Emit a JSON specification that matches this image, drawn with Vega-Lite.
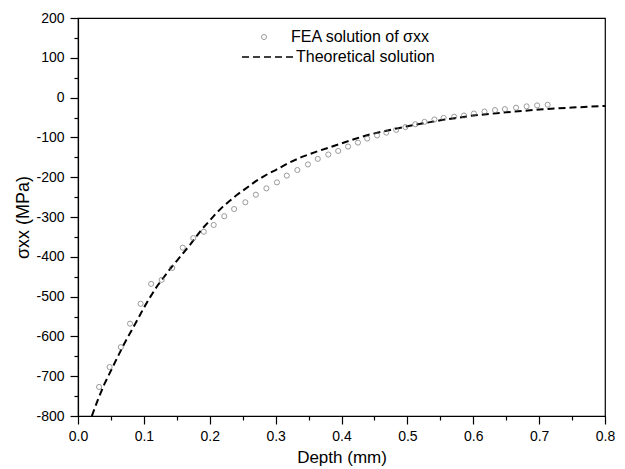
{
  "$schema": "https://vega.github.io/schema/vega-lite/v6.json",
  "width": 527,
  "height": 398,
  "autosize": "none",
  "padding": {"left": 78, "top": 18, "right": 20, "bottom": 53},
  "background": "white",
  "config": {
    "view": {"stroke": "black", "strokeWidth": 1.2},
    "font": "Liberation Sans"
  },
  "datasets": {
    "fea": [
      {"depth": 0.032, "stress": -727}, {"depth": 0.048, "stress": -677}, {"depth": 0.065, "stress": -627},
      {"depth": 0.079, "stress": -568}, {"depth": 0.095, "stress": -518}, {"depth": 0.111, "stress": -468},
      {"depth": 0.127, "stress": -458}, {"depth": 0.143, "stress": -428}, {"depth": 0.159, "stress": -377},
      {"depth": 0.175, "stress": -353}, {"depth": 0.191, "stress": -337}, {"depth": 0.206, "stress": -320},
      {"depth": 0.222, "stress": -298}, {"depth": 0.237, "stress": -280}, {"depth": 0.254, "stress": -263},
      {"depth": 0.270, "stress": -244}, {"depth": 0.286, "stress": -228}, {"depth": 0.302, "stress": -213},
      {"depth": 0.317, "stress": -196}, {"depth": 0.333, "stress": -182}, {"depth": 0.349, "stress": -168},
      {"depth": 0.364, "stress": -154}, {"depth": 0.380, "stress": -143}, {"depth": 0.395, "stress": -134},
      {"depth": 0.410, "stress": -123}, {"depth": 0.425, "stress": -113}, {"depth": 0.439, "stress": -103},
      {"depth": 0.454, "stress": -95}, {"depth": 0.468, "stress": -88}, {"depth": 0.483, "stress": -81},
      {"depth": 0.497, "stress": -74}, {"depth": 0.512, "stress": -67}, {"depth": 0.526, "stress": -61},
      {"depth": 0.541, "stress": -55}, {"depth": 0.555, "stress": -51}, {"depth": 0.571, "stress": -48},
      {"depth": 0.586, "stress": -45}, {"depth": 0.601, "stress": -40}, {"depth": 0.617, "stress": -35},
      {"depth": 0.633, "stress": -31.5}, {"depth": 0.648, "stress": -29}, {"depth": 0.665, "stress": -25.5},
      {"depth": 0.681, "stress": -22}, {"depth": 0.697, "stress": -19.6}, {"depth": 0.713, "stress": -18}
    ],
    "theory": [
      {"depth": 0.021, "stress": -800}, {"depth": 0.03, "stress": -760}, {"depth": 0.04, "stress": -720},
      {"depth": 0.05, "stress": -686}, {"depth": 0.06, "stress": -652}, {"depth": 0.07, "stress": -619},
      {"depth": 0.08, "stress": -589}, {"depth": 0.09, "stress": -559}, {"depth": 0.10, "stress": -528},
      {"depth": 0.11, "stress": -500}, {"depth": 0.12, "stress": -474}, {"depth": 0.13, "stress": -452},
      {"depth": 0.14, "stress": -430}, {"depth": 0.15, "stress": -410}, {"depth": 0.16, "stress": -390},
      {"depth": 0.17, "stress": -370}, {"depth": 0.18, "stress": -348}, {"depth": 0.19, "stress": -327},
      {"depth": 0.20, "stress": -309}, {"depth": 0.21, "stress": -290}, {"depth": 0.22, "stress": -274},
      {"depth": 0.23, "stress": -260}, {"depth": 0.24, "stress": -246}, {"depth": 0.25, "stress": -234},
      {"depth": 0.26, "stress": -222}, {"depth": 0.27, "stress": -210}, {"depth": 0.28, "stress": -200},
      {"depth": 0.29, "stress": -190}, {"depth": 0.30, "stress": -182}, {"depth": 0.32, "stress": -164},
      {"depth": 0.34, "stress": -149}, {"depth": 0.36, "stress": -137}, {"depth": 0.38, "stress": -126},
      {"depth": 0.40, "stress": -115}, {"depth": 0.42, "stress": -104}, {"depth": 0.44, "stress": -94},
      {"depth": 0.46, "stress": -86}, {"depth": 0.48, "stress": -79}, {"depth": 0.50, "stress": -72},
      {"depth": 0.55, "stress": -57}, {"depth": 0.60, "stress": -45}, {"depth": 0.65, "stress": -37},
      {"depth": 0.70, "stress": -30}, {"depth": 0.75, "stress": -25}, {"depth": 0.80, "stress": -21}
    ]
  },
  "resolve": {"axis": {"x": "independent", "y": "independent"}},
  "layer": [
    {
      "data": {"name": "theory"},
      "mark": {"type": "line", "color": "black", "strokeWidth": 2, "clip": true},
      "encoding": {
        "x": {
          "field": "depth", "type": "quantitative",
          "scale": {"domain": [0, 0.8], "nice": false, "zero": false},
          "axis": {
            "orient": "bottom", "title": "Depth (mm)",
            "values": [0, 0.1, 0.2, 0.3, 0.4, 0.5, 0.6, 0.7, 0.8], "format": ".1f",
            "grid": false, "tickSize": 8, "tickWidth": 1.2, "tickColor": "black",
            "domainColor": "black", "domainWidth": 1.2,
            "labelFontSize": 14, "labelColor": "black", "labelPadding": 5, "labelFlush": false,
            "titleFontSize": 17, "titleFontWeight": "normal", "titleColor": "black", "titlePadding": 6
          }
        },
        "y": {
          "field": "stress", "type": "quantitative",
          "scale": {"domain": [-800, 200], "nice": false, "zero": false},
          "axis": {
            "orient": "left", "title": "σxx (MPa)",
            "values": [-800, -700, -600, -500, -400, -300, -200, -100, 0, 100, 200],
            "labelExpr": "replace(datum.label, '\u2212', '-')",
            "grid": false, "tickSize": 8, "tickWidth": 1.2, "tickColor": "black",
            "domainColor": "black", "domainWidth": 1.2,
            "labelFontSize": 14, "labelColor": "black", "labelPadding": 6, "labelFlush": false,
            "titleFontSize": 18, "titleFontWeight": "normal", "titleColor": "black", "titlePadding": 3
          }
        },
        "strokeDash": {
          "datum": "Theoretical solution",
          "scale": {"range": [[7, 4]]},
          "legend": {
            "orient": "none", "legendX": 163, "legendY": 12, "title": null, "padding": 0,
            "symbolType": "stroke", "symbolSize": 2704, "symbolStrokeWidth": 1.5,
            "symbolStrokeColor": "black", "labelFontSize": 16, "labelColor": "black",
            "labelOffset": 1, "labelLimit": 400,
            "encode": {"symbols": {"update": {"strokeDash": {"value": [4, 2.5]}, "stroke": {"value": "black"}}}}
          }
        }
      }
    },
    {
      "data": {"name": "fea"},
      "mark": {"type": "point", "filled": false, "color": "#707070", "size": 26, "strokeWidth": 1},
      "encoding": {
        "x": {
          "field": "depth", "type": "quantitative",
          "axis": {
            "orient": "bottom", "title": null, "labels": false, "domain": false, "grid": false,
            "values": [0.05, 0.15, 0.25, 0.35, 0.45, 0.55, 0.65, 0.75],
            "tickSize": 4, "tickWidth": 1.2, "tickColor": "black"
          }
        },
        "y": {
          "field": "stress", "type": "quantitative",
          "axis": {
            "orient": "left", "title": null, "labels": false, "domain": false, "grid": false,
            "values": [-750, -650, -550, -450, -350, -250, -150, -50, 50, 150],
            "tickSize": 4, "tickWidth": 1.2, "tickColor": "black"
          }
        },
        "shape": {
          "datum": "FEA solution of σxx",
          "scale": {"range": ["circle"]},
          "legend": {
            "orient": "none", "legendX": 178, "legendY": 11, "title": null, "padding": 0,
            "symbolSize": 25, "symbolStrokeWidth": 1, "symbolStrokeColor": "#707070",
            "symbolFillColor": "transparent", "labelFontSize": 16, "labelColor": "black",
            "labelOffset": 19, "labelLimit": 400,
            "encode": {"symbols": {"update": {"stroke": {"value": "#707070"}, "fill": {"value": "transparent"}}}}
          }
        }
      }
    }
  ]
}
